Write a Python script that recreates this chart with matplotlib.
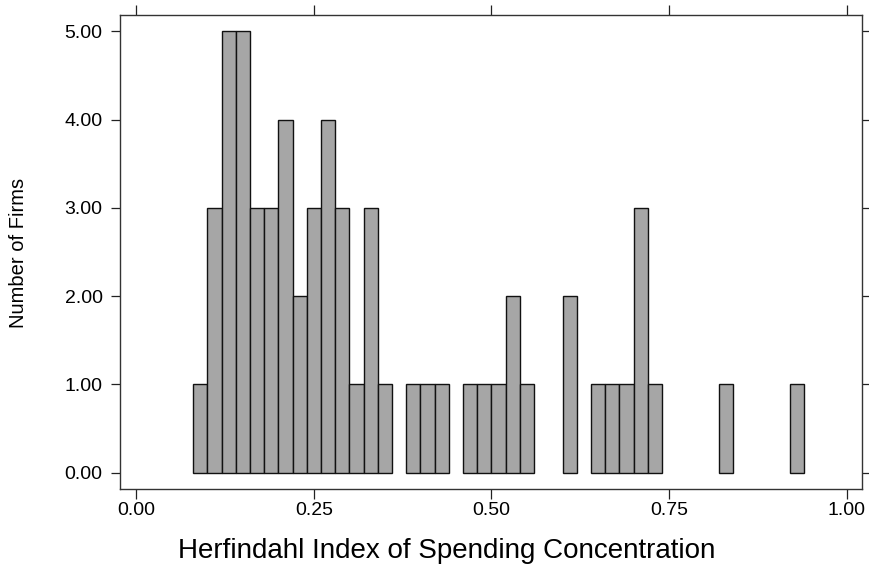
import matplotlib
matplotlib.use("Agg")
import matplotlib.pyplot as plt

plt.rcParams['font.family'] = ['Liberation Sans', 'DejaVu Sans']

# Histogram data: left edge of each 0.02-wide bin and the number of firms
bin_left = [0.08, 0.10, 0.12, 0.14, 0.16, 0.18, 0.20, 0.22, 0.24, 0.26, 0.28, 0.30,
            0.32, 0.34, 0.38, 0.40, 0.42, 0.46, 0.48, 0.50, 0.52, 0.54, 0.60,
            0.64, 0.66, 0.68, 0.70, 0.72, 0.82, 0.92]
counts = [1, 3, 5, 5, 3, 3, 4, 2, 3, 4, 3, 1,
          3, 1, 1, 1, 1, 1, 1, 1, 2, 1, 2,
          1, 1, 1, 3, 1, 1, 1]
bin_width = 0.02

x_ticks = [0.0, 0.25, 0.5, 0.75, 1.0]
x_ticklabels = ["0.00", "0.25", "0.50", "0.75", "1.00"]
y_ticks = [0, 1, 2, 3, 4, 5]
y_ticklabels = ["0.00", "1.00", "2.00", "3.00", "4.00", "5.00"]

W, H = 869, 571
fig = plt.figure(figsize=(W / 100, H / 100), dpi=100)
ax = fig.add_axes([120 / W, (H - 489) / H, (862 - 120) / W, (489 - 15) / H])

ax.bar(bin_left, counts, width=bin_width, align='edge',
       color='#a6a6a6', edgecolor='#111111', linewidth=1.0)

ax.set_xlim(-0.0232, 1.0218)
ax.set_ylim(-0.185, 5.185)

ax.set_xticks(x_ticks)
ax.set_xticklabels(x_ticklabels)
ax.set_yticks(y_ticks)
ax.set_yticklabels(y_ticklabels)

ax.tick_params(axis='x', which='both', direction='out', length=7.5, width=0.9,
               top=True, bottom=True, labelsize=14, pad=2, colors='#222222')
ax.tick_params(axis='y', which='both', direction='out', length=6.5, width=0.9,
               left=True, right=True, labelsize=14, pad=6, colors='#222222')
ax.tick_params(axis='x', which='major', labelcolor='black')
ax.tick_params(axis='y', which='major', labelcolor='black')

for s in ax.spines.values():
    s.set_linewidth(1.0)
    s.set_color('#333333')

fig.text(447 / W, 1 - 551 / H, "Herfindahl Index of Spending Concentration",
         ha='center', va='center', fontsize=20)
fig.text(19 / W, 1 - 253 / H, "Number of Firms", rotation=90,
         ha='center', va='center', fontsize=14.5)

fig.savefig("out.png", dpi=100)
